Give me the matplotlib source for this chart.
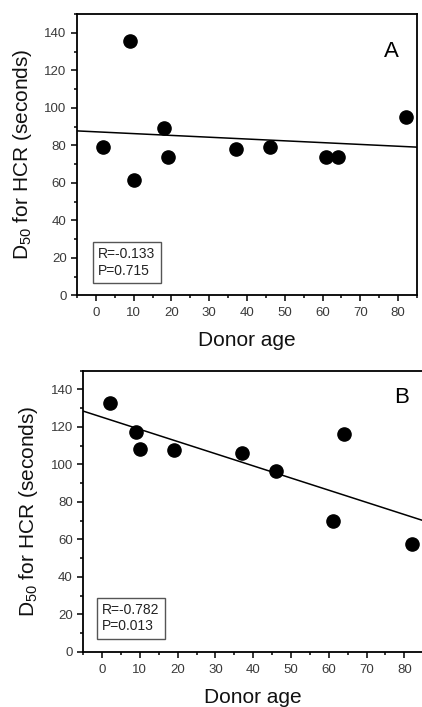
# -*- coding: utf-8 -*-
'''
D50 for HCR vs donor age, panels A and B
'''
import numpy as np
import matplotlib
matplotlib.use('Agg')
from matplotlib import pyplot as plt
from matplotlib.ticker import MultipleLocator

plt.rcParams['font.family'] = ['Liberation Sans', 'DejaVu Sans']
plt.rcParams['mathtext.default'] = 'regular'

#%% Data
age_a = [2, 9, 10, 18, 19, 37, 46, 61, 64, 82]
d50_a = [79, 135.5, 61.7, 89.2, 73.8, 78, 79, 73.8, 73.8, 95]
stats_a = 'R=-0.133\nP=0.715'

age_b = [2, 9, 10, 19, 37, 46, 61, 64, 82]
d50_b = [132.6, 117.3, 108.2, 107.9, 106.1, 96.2, 70, 116.4, 57.6]
stats_b = 'R=-0.782\nP=0.013'

panels = ['A', 'B']

#%% Plot
fig = plt.figure(figsize=(4.22, 7.07), dpi=100)
positions = [[0.1825, 0.5823, 0.8055, 0.3977],
             [0.197, 0.0782, 0.806, 0.3975]]
letter_pos = [(0.926, 0.866), (0.935, 0.903)]
box_pos = [(0.062, 0.063), (0.056, 0.065)]
tick_col = '#3a3a3a'

for pos, xs, ys, st, lab, lp, bp in zip(positions, [age_a, age_b], [d50_a, d50_b],
                                        [stats_a, stats_b], panels, letter_pos, box_pos):
    ax = fig.add_axes(pos)
    xs = np.array(xs); ys = np.array(ys)
    k, b = np.polyfit(xs, ys, 1)
    xl = np.array([-5, 85])
    ax.plot(xl, k*xl+b, color='k', lw=1.1)
    ax.plot(xs, ys, 'o', color='k', markersize=9.5)
    ax.set_xlim(-5, 85)
    ax.set_ylim(0, 150)
    ax.xaxis.set_major_locator(MultipleLocator(10))
    ax.xaxis.set_minor_locator(MultipleLocator(5))
    ax.yaxis.set_major_locator(MultipleLocator(20))
    ax.yaxis.set_minor_locator(MultipleLocator(10))
    ax.tick_params(which='both', direction='out', top=False, right=False,
                   labelsize=9.5, labelcolor=tick_col, width=1.1)
    ax.tick_params(which='major', length=4.5)
    ax.tick_params(axis='x', which='major', pad=4)
    ax.tick_params(axis='y', which='major', pad=3)
    ax.tick_params(which='minor', length=2.2)
    for s in ax.spines.values():
        s.set_linewidth(1.3)
    ax.set_xlabel('Donor age', fontsize=15, color='#111111')
    ax.set_ylabel(r'D$_{50}$ for HCR (seconds)', fontsize=15, color='#111111')
    ax.xaxis.set_label_coords(0.5, -0.128)
    ax.yaxis.set_label_coords(-0.128, 0.5)
    ax.text(lp[0], lp[1], lab, transform=ax.transAxes, fontsize=16,
            ha='center', va='center')
    ax.text(bp[0], bp[1], st, transform=ax.transAxes, fontsize=10, color='#222222',
            ha='left', va='bottom', linespacing=1.2,
            bbox=dict(boxstyle='square,pad=0.4', fc='white', ec='#555555', lw=1))

plt.savefig('out.png', dpi=100)
